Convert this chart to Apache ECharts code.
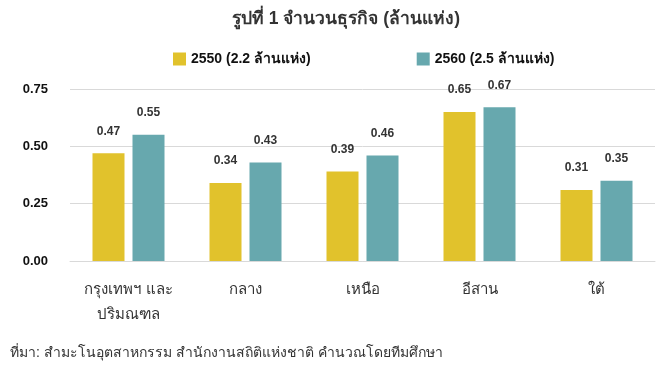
<!DOCTYPE html>
<html><head><meta charset="utf-8">
<script src="https://cdn.jsdelivr.net/npm/echarts@6/dist/echarts.min.js"></script>
<style>html,body{margin:0;padding:0;background:#fff}#c{width:666px;height:367px}</style>
</head><body><div id="c"></div>
<script>
const categories = ['กรุงเทพฯ และ\nปริมณฑล', 'กลาง', 'เหนือ', 'อีสาน', 'ใต้'];
const series2550 = [0.47, 0.34, 0.39, 0.65, 0.31];
const series2560 = [0.55, 0.43, 0.46, 0.67, 0.35];
const seriesNames = ['2550 (2.2 ล้านแห่ง)', '2560 (2.5 ล้านแห่ง)'];
const titleText = 'รูปที่ 1 จำนวนธุรกิจ (ล้านแห่ง)';
const sourceText = 'ที่มา: สำมะโนอุตสาหกรรม สำนักงานสถิติแห่งชาติ คำนวณโดยทีมศึกษา';

const chart = echarts.init(document.getElementById('c'), null, {renderer: 'canvas'});
const font = 'Arial, "Liberation Sans", "DejaVu Sans", sans-serif';
const label = {show: true, position: 'top', distance: 16, fontFamily: font, fontSize: 12, fontWeight: 'bold', color: '#333', formatter: p => p.value.toFixed(2)};
chart.setOption({
  animation: false,
  textStyle: {fontFamily: font},
  title: [{
    text: titleText, left: 227, top: 5,
    textStyle: {fontFamily: font, fontSize: 17.5, fontWeight: 'bold', color: '#333'}
  }, {
    text: sourceText, left: 5, top: 341,
    textStyle: {fontFamily: font, fontSize: 14, fontWeight: 'normal', color: '#333'}
  }],
  legend: {
    top: 47, left: 168, itemGap: 106, itemWidth: 13, itemHeight: 13, icon: 'rect',
    textStyle: {fontFamily: font, fontSize: 14, fontWeight: 'bold', color: '#111'},
    data: seriesNames
  },
  grid: {left: 70, right: 11, top: 89, bottom: 106},
  xAxis: {
    type: 'category', data: categories,
    axisLine: {lineStyle: {color: '#d9d9d9', width: 1}},
    axisTick: {show: false},
    axisLabel: {fontFamily: font, fontSize: 15, color: '#333', margin: 16, lineHeight: 25, interval: 0}
  },
  yAxis: {
    type: 'value', min: 0, max: 0.75, interval: 0.25,
    axisLine: {show: false}, axisTick: {show: false},
    splitLine: {lineStyle: {color: '#d9d9d9', width: 1}},
    axisLabel: {fontFamily: font, fontSize: 13, fontWeight: 'bold', color: '#111', margin: 22, formatter: v => v.toFixed(2)}
  },
  series: [
    {name: seriesNames[0], type: 'bar', data: series2550, barWidth: 32, barGap: '25%', itemStyle: {color: '#E1C22C'}, label: label},
    {name: seriesNames[1], type: 'bar', data: series2560, barWidth: 32, barGap: '25%', itemStyle: {color: '#67A8AE'}, label: label}
  ]
});
</script></body></html>
